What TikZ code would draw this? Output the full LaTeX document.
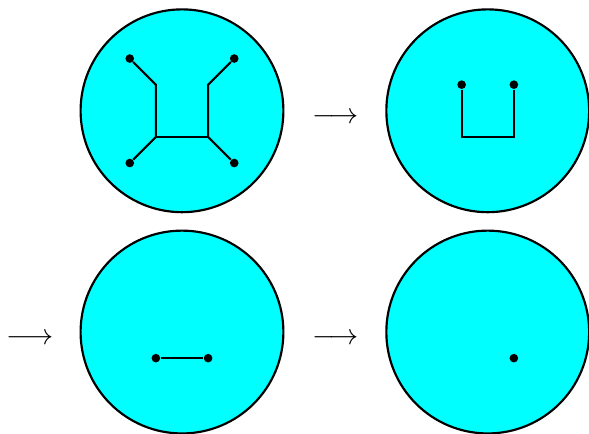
\documentclass[tikz,border=0pt]{standalone}
\definecolor{diskcyan}{RGB}{0,255,255}
\begin{document}
\begin{tikzpicture}[
  disk/.style={circle, draw=black, thick, fill=diskcyan, minimum size=2.64cm,
    inner sep=0pt},
  leaf/.style={circle, fill=black, inner sep=0pt, minimum size=3.2pt},
  edge/.style={draw=black, thick},
  move/.style={inner sep=0pt, anchor=center, scale=1.08},
]
\useasboundingbox (-2.369,-4.207) rectangle (5.298,1.442);

% Disks
\node[disk] (d1) at (0, 0) {};
\node[disk] (d2) at (3.98, 0) {};
\node[disk] (d3) at (0, -2.88) {};
\node[disk] (d4) at (3.98, -2.88) {};

% Arrows between the stages
\node[move] (m1) at (2.0, -0.09) {$\longrightarrow$};
\node[move] (m2) at (-1.98, -2.97) {$\longrightarrow$};
\node[move] (m3) at (2.0, -2.97) {$\longrightarrow$};

% Stage 1: tree with four leaves
\coordinate (p1) at (-0.34, 0.34);
\coordinate (p2) at (0.34, 0.34);
\coordinate (p3) at (-0.34, -0.34);
\coordinate (p4) at (0.34, -0.34);
\node[leaf] (l1) at (-0.68, 0.68) {};
\node[leaf] (l2) at (0.68, 0.68) {};
\node[leaf] (l3) at (-0.68, -0.68) {};
\node[leaf] (l4) at (0.68, -0.68) {};
\draw[edge] (l1) -- (p1) -- (p3) -- (l3);
\draw[edge] (l2) -- (p2) -- (p4) -- (l4);
\draw[edge] (p3) -- (p4);

% Stage 2: path with two ends
\coordinate (q1) at (3.64, -0.34);
\coordinate (q2) at (4.32, -0.34);
\node[leaf] (k1) at (3.64, 0.34) {};
\node[leaf] (k2) at (4.32, 0.34) {};
\draw[edge] (k1) -- (q1) -- (q2) -- (k2);

% Stage 3: single edge
\node[leaf] (e1) at (-0.34, -3.22) {};
\node[leaf] (e2) at (0.34, -3.22) {};
\draw[edge] (e1) -- (e2);

% Stage 4: single point
\node[leaf] (v1) at (4.32, -3.22) {};

\end{tikzpicture}
\end{document}
